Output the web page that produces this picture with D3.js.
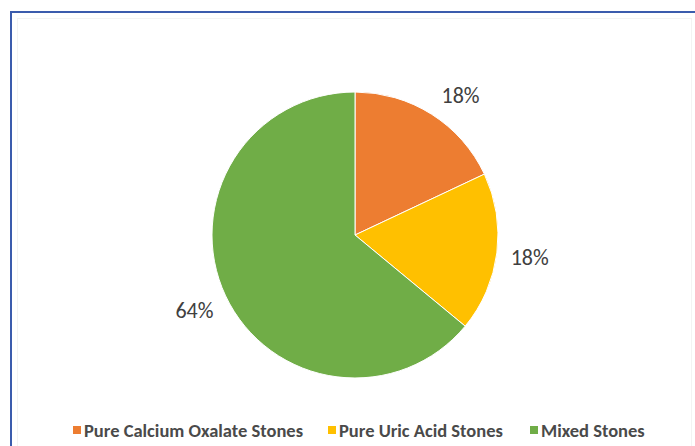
<!DOCTYPE html>
<html>
<head>
<meta charset="utf-8">
<script src="https://cdn.jsdelivr.net/npm/d3@7"></script>
<style>
  body { margin: 0; background: #fff; }
  svg { display: block; }
</style>
</head>
<body>
<div id="chart"></div>
<script>
// chart data
var categories = ["Pure Calcium Oxalate Stones", "Pure Uric Acid Stones", "Mixed Stones"];
var values = [18, 18, 64];
var labels = ["18%", "18%", "64%"];
var colors = ["#ED7D31", "#FFC000", "#70AD47"];

var svgWidth = 695;
var svgHeight = 446;

var svg = d3.select("#chart")
  .append("svg")
  .attr("width", svgWidth)
  .attr("height", svgHeight);

// faint inner chart-area border
svg.append("rect")
  .attr("x", 17.5)
  .attr("y", 18.5)
  .attr("width", 674)
  .attr("height", 440)
  .attr("fill", "none")
  .attr("stroke", "#f3f3f3")
  .attr("stroke-width", 1);

// blue frame (runs off the right and bottom edge)
svg.append("rect")
  .attr("x", 11)
  .attr("y", 12)
  .attr("width", 700)
  .attr("height", 450)
  .attr("fill", "none")
  .attr("stroke", "#3B5CAD")
  .attr("stroke-width", 2);

var cx = 355, cy = 235, radius = 143;

var pie = d3.pie().sort(null).value(d => d);
var arcs = pie(values);

var arc = d3.arc().innerRadius(0).outerRadius(radius);

var g = svg.append("g")
  .attr("transform", `translate(${cx}, ${cy})`);

g.selectAll("path")
  .data(arcs)
  .enter()
  .append("path")
  .attr("d", arc)
  .attr("fill", (d, i) => colors[i])
  .attr("stroke", "#fff")
  .attr("stroke-width", 1);

// outside-end labels: push the label box out along the mid angle
var gap = 13, halfW = 19, halfH = 10;
// small nudge Excel applies to the first label
var nudge = [[12, 8], [0, 0], [0, 0]];

g.selectAll("text.pct")
  .data(arcs)
  .enter()
  .append("text")
  .attr("class", "pct")
  .each(function(d, i) {
    var a = (d.startAngle + d.endAngle) / 2;
    var sx = Math.sin(a), cy2 = -Math.cos(a);
    var r = radius + gap + halfW * Math.abs(sx) + halfH * Math.abs(cy2);
    d3.select(this)
      .attr("x", r * sx + nudge[i][0])
      .attr("y", r * cy2 + nudge[i][1]);
  })
  .attr("text-anchor", "middle")
  .attr("dominant-baseline", "central")
  .attr("font-family", "Carlito, 'Open Sans', sans-serif")
  .attr("font-size", "22px")
  .attr("fill", "#404040")
  .text((d, i) => labels[i]);

// legend
var legendX = [73, 328, 530];
var legend = svg.append("g");

var items = legend.selectAll("g")
  .data(categories)
  .enter()
  .append("g")
  .attr("transform", (d, i) => `translate(${legendX[i]}, 430)`);

items.append("rect")
  .attr("x", 0)
  .attr("y", -4)
  .attr("width", 8)
  .attr("height", 8)
  .attr("fill", (d, i) => colors[i]);

items.append("text")
  .attr("x", 11)
  .attr("y", 0)
  .attr("dominant-baseline", "central")
  .attr("font-family", "Carlito, 'Open Sans', sans-serif")
  .attr("font-weight", "bold")
  .attr("font-size", "18.5px")
  .attr("fill", "#4a4a4a")
  .text(d => d);
</script>
</body>
</html>
